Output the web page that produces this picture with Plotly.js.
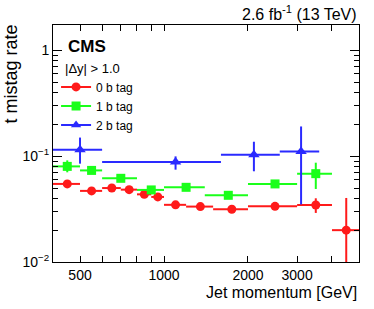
<!DOCTYPE html>
<html>
<head>
<meta charset="utf-8">
<script src="https://cdn.plot.ly/plotly-3.0.1.min.js"></script>
<style>html,body{margin:0;padding:0;background:#fff;}#chart{width:374px;height:309px;}</style>
</head>
<body>
<div id="chart"></div>
<script>
// 0 b tag
const red_x = [450, 550, 650, 750, 850, 950, 1100, 1350, 1750, 2500, 3500, 4500];
const red_lo = [400, 500, 600, 700, 800, 900, 1000, 1200, 1500, 2000, 3000, 4000];
const red_hi = [500, 600, 700, 800, 900, 1000, 1200, 1500, 2000, 3000, 4000, 5000];
const red_y = [0.0547, 0.0470, 0.0500, 0.0483, 0.0436, 0.0412, 0.0347, 0.0334, 0.0315, 0.0336, 0.0346, 0.0200];
const red_eu = [0.0020, 0.0015, 0.0015, 0.0015, 0.0015, 0.0015, 0.0012, 0.0012, 0.0012, 0.0015, 0.0054, 0.0203];
const red_ed = [0.0020, 0.0015, 0.0015, 0.0015, 0.0015, 0.0015, 0.0012, 0.0012, 0.0012, 0.0015, 0.0055, 0.0160];
// 1 b tag
const green_x = [450, 550, 700, 900, 1200, 1700, 2500, 3500];
const green_lo = [400, 500, 600, 800, 1000, 1400, 2000, 3000];
const green_hi = [500, 600, 800, 1000, 1400, 2000, 3000, 4000];
const green_y = [0.0801, 0.0734, 0.0618, 0.0480, 0.0508, 0.0427, 0.0547, 0.0684];
const green_eu = [0.0112, 0.0040, 0.0030, 0.0025, 0.0025, 0.0025, 0.0040, 0.0184];
const green_ed = [0.0097, 0.0040, 0.0030, 0.0025, 0.0025, 0.0025, 0.0040, 0.0194];
// 2 b tag
const blue_x = [500, 1100, 2100, 3100];
const blue_lo = [400, 600, 1600, 2600];
const blue_hi = [600, 1600, 2600, 3600];
const blue_y = [0.115, 0.088, 0.103, 0.111];
const blue_eu = [0.035, 0.0116, 0.034, 0.080];
const blue_ed = [0.030, 0.0134, 0.031, 0.076];

const xTickVals = [500, 1000, 2000, 3000];
const xTickText = ['500', '1000', '2000', '3000'];
const xMinor = [600, 700, 800, 900, 4000];
const yTickVals = [0.01, 0.1, 1];
const yTickText = ['10<sup>\u22122</sup>', '10<sup>\u22121</sup>', '1'];
const yMinor = [0.02,0.03,0.04,0.05,0.06,0.07,0.08,0.09,0.2,0.3,0.4,0.5,0.6,0.7,0.8,0.9];

const FONT = 'Liberation Sans, Arial, Helvetica, sans-serif';

function series(name, xs, lo, hi, ys, eu, ed, color, symbol, size) {
  return {
    type: 'scatter', mode: 'markers', name: name, showlegend: false,
    x: xs, y: ys,
    marker: {color: color, symbol: symbol, size: size},
    error_x: {type: 'data', symmetric: false,
      array: xs.map((v, i) => hi[i] - v), arrayminus: xs.map((v, i) => v - lo[i]),
      color: color, thickness: 2, width: 0},
    error_y: {type: 'data', symmetric: false, array: eu, arrayminus: ed,
      color: color, thickness: 2, width: 0}
  };
}
function legendEntry(name, color, symbol, size) {
  return {type: 'scatter', mode: 'lines+markers', name: name, x: [null], y: [null],
    line: {color: color, width: 2}, marker: {color: color, symbol: symbol, size: size}};
}

const RED = '#ff1a1a', GREEN = '#1aff1a', BLUE = '#2a2aff';
const data = [
  series('0 b tag', red_x, red_lo, red_hi, red_y, red_eu, red_ed, RED, 'circle', 9),
  series('1 b tag', green_x, green_lo, green_hi, green_y, green_eu, green_ed, GREEN, 'square', 9),
  series('2 b tag', blue_x, blue_lo, blue_hi, blue_y, blue_eu, blue_ed, BLUE, 'triangle-up', 10),
  legendEntry('0 b tag', RED, 'circle', 9),
  legendEntry('1 b tag', GREEN, 'square', 9),
  legendEntry('2 b tag', BLUE, 'triangle-up', 9)
];

const xr = [Math.log10(400), Math.log10(5000)];
const layout = {
  width: 374, height: 309,
  margin: {l: 53, r: 15, t: 25, b: 47},
  paper_bgcolor: '#fff', plot_bgcolor: '#fff',
  font: {family: FONT, color: '#000', size: 14},
  showlegend: true,
  legend: {x: 0.01, y: 0.80, xanchor: 'left', yanchor: 'top', bgcolor: 'rgba(0,0,0,0)',
    font: {family: FONT, size: 12}, tracegroupgap: 0},
  xaxis: {type: 'log', range: xr, tickmode: 'array', tickvals: xTickVals, ticktext: xTickText,
    ticks: 'inside', ticklen: 6, tickwidth: 1, tickcolor: '#000',
    showline: true, linecolor: '#000', linewidth: 1, mirror: 'allticks',
    showgrid: false, zeroline: false, tickfont: {family: FONT, size: 14},
    minor: {tickmode: 'array', tickvals: xMinor, ticks: 'inside', ticklen: 6, tickcolor: '#000', showgrid: false}},
  xaxis2: {type: 'log', range: xr, overlaying: 'x', anchor: 'y', tickmode: 'array', tickvals: [1000],
    ticks: 'inside', ticklen: 11, tickcolor: '#000', showticklabels: false, showgrid: false,
    mirror: 'allticks', showline: false, zeroline: false},
  yaxis: {type: 'log', range: [-2, 0.24], tickmode: 'array', tickvals: yTickVals, ticktext: yTickText,
    ticks: 'inside', ticklen: 9, tickwidth: 1, tickcolor: '#000',
    showline: true, linecolor: '#000', linewidth: 1, mirror: 'allticks',
    showgrid: false, zeroline: false, tickfont: {family: FONT, size: 14},
    minor: {tickmode: 'array', tickvals: yMinor, ticks: 'inside', ticklen: 5, tickcolor: '#000', showgrid: false}},
  annotations: [
    {text: '<b>CMS</b>', xref: 'paper', yref: 'paper', x: (66 - 53) / 306, y: (262 - 47) / 237,
      xanchor: 'left', yanchor: 'middle', showarrow: false, font: {family: FONT, size: 17}},
    {text: '|\u0394y| > 1.0', xref: 'paper', yref: 'paper', x: (63 - 53) / 306, y: (262 - 68) / 237,
      xanchor: 'left', yanchor: 'middle', showarrow: false, font: {family: FONT, size: 13}},
    {text: '2.6 fb<sup>-1</sup> (13 TeV)', xref: 'paper', yref: 'paper', x: 1.0, y: (262 - 13) / 237,
      xanchor: 'right', yanchor: 'middle', showarrow: false, font: {family: FONT, size: 16}},
    {text: 'Jet momentum [GeV]', xref: 'paper', yref: 'paper', x: 1.0, y: (262 - 292) / 237,
      xanchor: 'right', yanchor: 'middle', showarrow: false, font: {family: FONT, size: 16}},
    {text: 't mistag rate', xref: 'paper', yref: 'paper', x: (11 - 53) / 306, y: (262 - 22) / 237, textangle: -90,
      xanchor: 'center', yanchor: 'top', showarrow: false, font: {family: FONT, size: 18}}
  ]
};
Plotly.newPlot('chart', data, layout, {displayModeBar: false, staticPlot: true});
</script>
</body>
</html>
